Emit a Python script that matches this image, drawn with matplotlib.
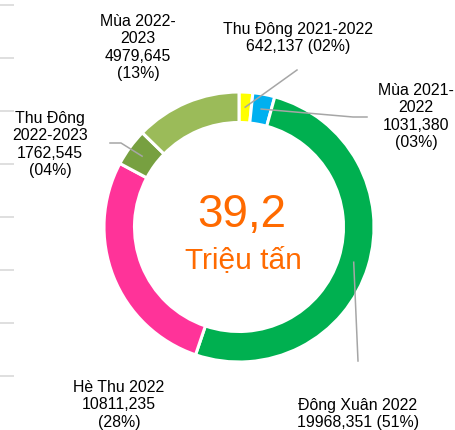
import numpy as np
import matplotlib
matplotlib.use('Agg')
import matplotlib.pyplot as plt

plt.rcParams['font.family'] = ['Liberation Sans', 'DejaVu Sans']

# San luong lua theo vu (nghin tan)
vu = ['Thu Đông 2021-2022', 'Mùa 2021-2022', 'Đông Xuân 2022',
      'Hè Thu 2022', 'Thu Đông 2022-2023', 'Mùa 2022-2023']
san_luong = [642.137, 1031.380, 19968.351, 10811.235, 1762.545, 4979.645]
nhan = ['Thu Đông 2021-2022\n642,137 (02%)',
        'Mùa 2021-\n2022\n1031,380\n(03%)',
        'Đông Xuân 2022\n19968,351 (51%)',
        'Hè Thu 2022\n10811,235\n(28%)',
        'Thu Đông\n2022-2023\n1762,545\n(04%)',
        'Mùa 2022-\n2023\n4979,645\n(13%)']
mau = ['#FFFF00', '#00B0F0', '#00B050', '#FF3399', '#77A040', '#9BBB59']
tong = '39,2'

W, H = 456, 430
cx, cy, R = 239, H - 227, 135

fig = plt.figure(figsize=(W / 100, H / 100), dpi=100)
ax = fig.add_axes([0, 0, 1, 1])

wedges, _ = ax.pie(san_luong, colors=mau, startangle=90, counterclock=False,
                   radius=R, center=(cx, cy),
                   wedgeprops=dict(width=30.5, edgecolor='white', linewidth=2.2))

ax.set_xlim(0, W)
ax.set_ylim(0, H)
ax.set_aspect('equal')
ax.axis('off')

# cac vach xam ben trai
for y in np.arange(8) * 53 + 5:
    ax.plot([0, 14], [H - y, H - y], color='#D9D9D9', lw=1.2, solid_capstyle='butt')

# vi tri nhan (x, y tren cung) va duong dan
vi_tri = [(298, 22), (416, 83), (358, 398), (119, 380), (50, 111), (138, 14)]
duong = [[(297, 70)], [(353, 117), (367, 117)], [(358, 361)], None,
         [(121, 143), (110, 143)], None]

for w, txt, (tx, ty), d in zip(wedges, nhan, vi_tri, duong):
    ax.text(tx, H - ty, txt, ha='center', va='top', fontsize=11.4,
            color='#000000', linespacing=1.2, multialignment='center')
    if d is not None:
        goc = np.deg2rad((w.theta1 + w.theta2) / 2)
        r0 = R - 15
        xs = [cx + r0 * np.cos(goc)] + [p[0] for p in d]
        ys = [cy + r0 * np.sin(goc)] + [H - p[1] for p in d]
        ax.plot(xs, ys, color='#A6A6A6', lw=1.1)

ax.text(242, H - 227, tong, ha='center', va='baseline', fontsize=33,
        color='#FF6A00')
ax.text(243, H - 268, 'Triệu tấn', ha='center', va='baseline', fontsize=21.5,
        color='#FF6A00')

fig.savefig('out.png', dpi=100)
